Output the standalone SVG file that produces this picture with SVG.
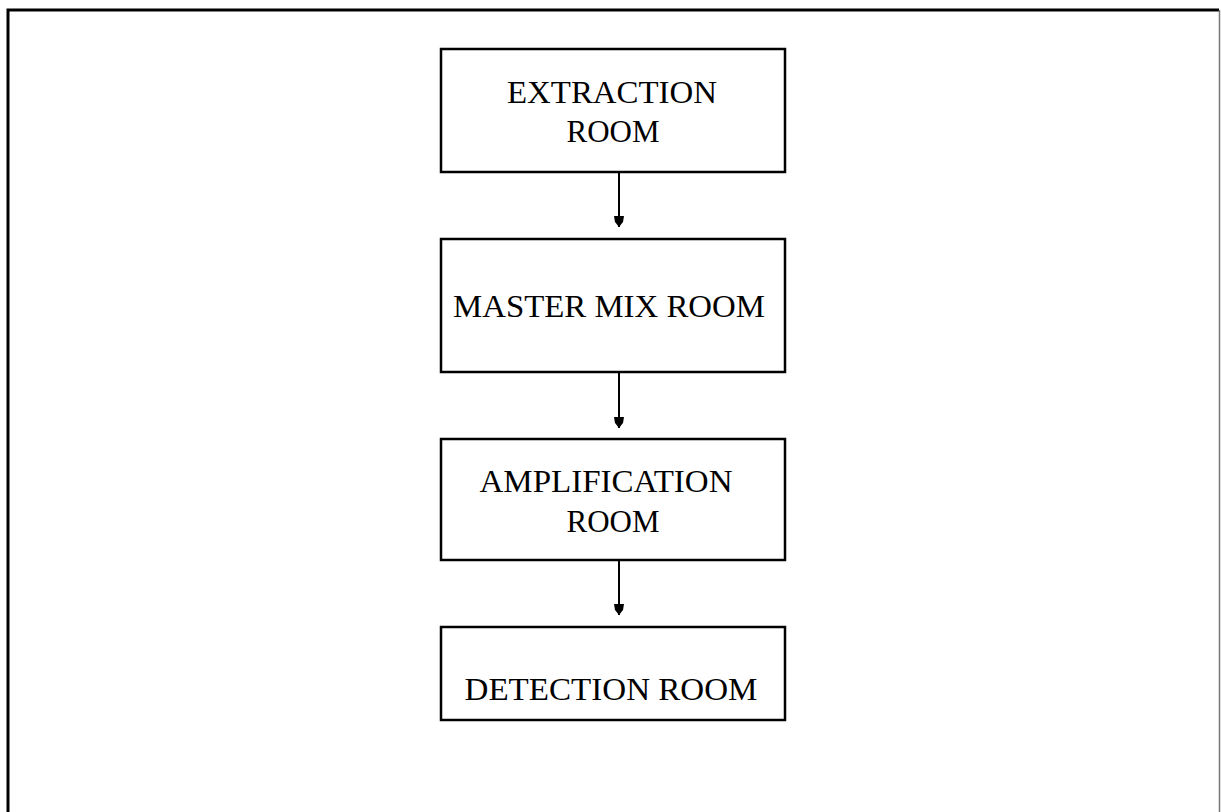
<svg xmlns="http://www.w3.org/2000/svg" width="1221" height="812" viewBox="0 0 1221 812">
<defs>
<style>
.box{fill:#fff;stroke:#000;stroke-width:2.5}
.t{font-family:"Liberation Serif","Times New Roman",serif;font-size:31px;fill:#000;text-anchor:middle}
.c{stroke:#000;stroke-width:2;fill:none}
</style>
<marker id="ah" markerWidth="11" markerHeight="10" refX="11" refY="5" orient="auto" markerUnits="userSpaceOnUse" viewBox="0 0 11 10">
<path d="M0,0 L6,1 L11,5 L6,9 L0,10 Z" fill="#000"/>
</marker>
</defs>
<rect width="1221" height="812" fill="#fff"/>
<g id="frame">
<path d="M8,812 L8,10 L1219,10" fill="none" stroke="#000" stroke-width="3"/>
<path d="M1219.5,10 L1219.5,812" fill="none" stroke="#777" stroke-width="1.5"/>
</g>
<g id="n1">
<rect class="box" x="441" y="49" width="344" height="123"/>
<text class="t" x="612" y="103" textLength="210" lengthAdjust="spacingAndGlyphs">EXTRACTION</text>
<text class="t" x="613" y="142" textLength="93" lengthAdjust="spacingAndGlyphs">ROOM</text>
</g>
<g id="n2">
<rect class="box" x="441" y="239" width="344" height="133"/>
<text class="t" x="609" y="317" textLength="312" lengthAdjust="spacingAndGlyphs">MASTER MIX ROOM</text>
</g>
<g id="n3">
<rect class="box" x="441" y="439" width="344" height="121"/>
<text class="t" x="606" y="492" textLength="253" lengthAdjust="spacingAndGlyphs">AMPLIFICATION</text>
<text class="t" x="613" y="532" textLength="93" lengthAdjust="spacingAndGlyphs">ROOM</text>
</g>
<g id="n4">
<rect class="box" x="441" y="627" width="344" height="93"/>
<text class="t" x="611" y="700" textLength="293" lengthAdjust="spacingAndGlyphs">DETECTION ROOM</text>
</g>
<g id="connectors">
<line class="c" x1="619" y1="172" x2="619" y2="227" marker-end="url(#ah)"/>
<line class="c" x1="619" y1="372" x2="619" y2="428" marker-end="url(#ah)"/>
<line class="c" x1="619" y1="560" x2="619" y2="615" marker-end="url(#ah)"/>
</g>
</svg>
